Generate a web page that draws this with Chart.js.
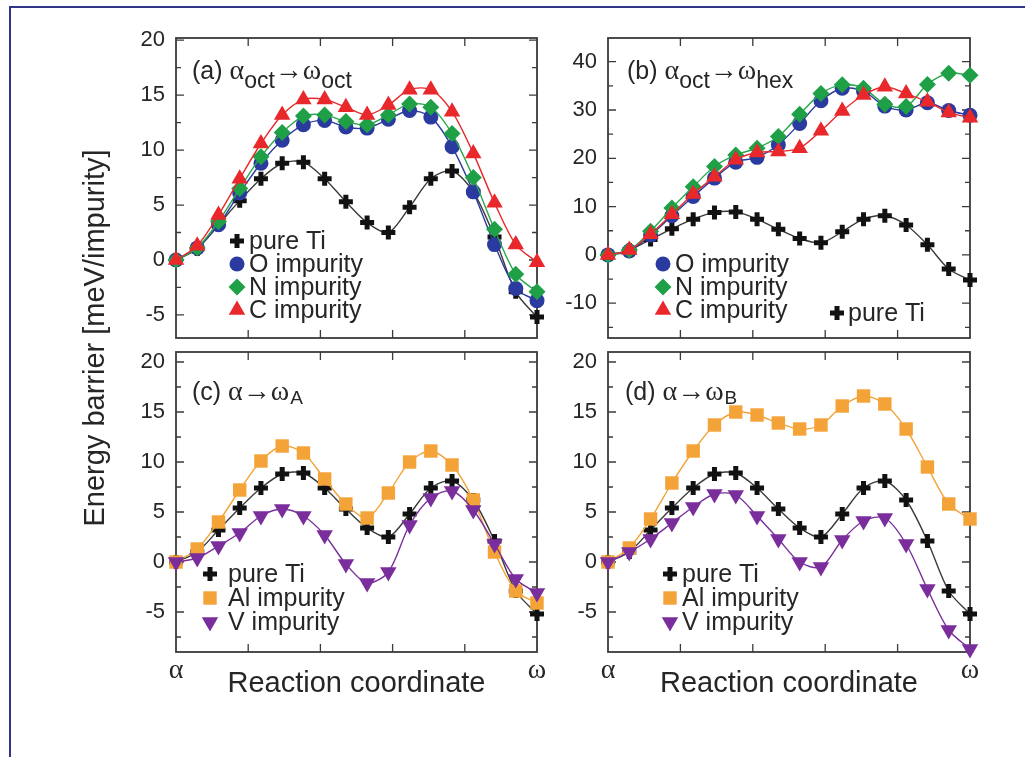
<!DOCTYPE html>
<html>
<head>
<meta charset="utf-8">
<title>Energy barrier along the alpha to omega path</title>
<script src="https://cdn.jsdelivr.net/npm/chart.js@4.4.1/dist/chart.umd.min.js"></script>
<style>
  html, body { margin: 0; padding: 0; background: #fff; }
  #page { position: relative; width: 1025px; height: 757px; overflow: hidden; }
  #edge { position: absolute; left: 9px; top: 6px; right: -10px; bottom: -10px;
          border-top: 2px solid #2f3484; border-left: 2px solid #2f3484; }
  canvas { position: absolute; left: 0; top: 0; }
</style>
</head>
<body>
<div id="page">
  <div id="edge"></div>
  <canvas id="panelA" width="1025" height="757"></canvas>
  <canvas id="panelB" width="1025" height="757"></canvas>
  <canvas id="panelC" width="1025" height="757"></canvas>
  <canvas id="panelD" width="1025" height="757"></canvas>
</div>
<script>
// images along the reaction path (alpha = 0 ... omega = 17)
const steps = [0, 1, 2, 3, 4, 5, 6, 7, 8, 9, 10, 11, 12, 13, 14, 15, 16, 17];
const xTicks = [0, 3.4, 6.8, 10.2, 13.6, 17];

// pure Ti, same path in every panel
const pureTi = [0, 1.0, 3.2, 5.4, 7.4, 8.8, 8.9, 7.4, 5.3, 3.4, 2.5, 4.8, 7.4, 8.1, 6.2, 2.1, -2.9, -5.2];

// (a) alpha_oct -> omega_oct
const octO = [0, 1.1, 3.2, 6.1, 8.8, 10.9, 12.3, 12.7, 12.1, 12.0, 12.8, 13.6, 13.0, 10.3, 6.2, 1.4, -2.6, -3.7];
const octN = [0, 1.1, 3.5, 6.5, 9.4, 11.6, 13.1, 13.2, 12.6, 12.3, 13.2, 14.2, 13.9, 11.5, 7.5, 2.8, -1.3, -2.9];
const octC = [0, 1.3, 4.1, 7.4, 10.6, 13.2, 14.6, 14.6, 13.9, 13.2, 14.1, 15.5, 15.5, 13.5, 9.7, 5.2, 1.4, -0.2];

// (b) alpha_oct -> omega_hex
const hexO = [0, 0.8, 4.1, 8.1, 12.1, 15.9, 19.2, 20.2, 22.8, 27.2, 31.9, 34.5, 33.9, 30.8, 30.0, 31.5, 29.9, 28.9];
const hexN = [0, 1.0, 4.9, 9.7, 14.1, 18.3, 20.7, 22.1, 24.5, 29.1, 33.4, 35.2, 34.5, 31.2, 30.7, 35.3, 37.6, 37.2];
const hexC = [0, 1.0, 4.3, 8.4, 12.6, 16.2, 19.7, 21.2, 21.4, 22.1, 25.7, 29.8, 33.1, 34.8, 33.4, 31.7, 29.5, 28.4];

// (c) alpha -> omega_A
const pathAAl = [0, 1.3, 4.0, 7.2, 10.1, 11.6, 10.9, 8.3, 5.8, 4.4, 6.9, 10.0, 11.1, 9.7, 6.2, 1.0, -2.9, -4.1];
const pathAV = [0, 0.4, 1.6, 2.9, 4.6, 5.3, 4.6, 2.7, -0.2, -2.1, -1.0, 3.7, 6.4, 7.1, 5.2, 1.8, -1.7, -3.1];

// (d) alpha -> omega_B
const pathBAl = [0, 1.4, 4.3, 7.9, 11.1, 13.7, 15.0, 14.7, 13.9, 13.3, 13.7, 15.6, 16.6, 15.8, 13.3, 9.5, 5.8, 4.3];
const pathBV = [0, 1.0, 2.3, 3.9, 5.5, 6.8, 6.7, 4.6, 2.3, 0, -0.5, 2.2, 4.1, 4.4, 1.8, -2.7, -6.8, -8.7];

const SANS = "'Liberation Sans', Arial, sans-serif";
const SERIF = "'Liberation Serif', 'Times New Roman', serif";
const TEXT = '#262626';

// marker looks
const look = {
  ti: { color: '#111', line: '#3a3a3a', pointStyle: 'cross', radius: 7, border: 5 },
  O:  { color: '#2a3a9e', line: '#2a3a9e', pointStyle: 'circle', radius: 7.5 },
  N:  { color: '#1fa047', line: '#2aa84f', pointStyle: 'rectRot', radius: 8.5 },
  C:  { color: '#e8282b', line: '#e8282b', pointStyle: 'triangle', radius: 9.5 },
  Al: { color: '#f4a338', line: '#f4a338', pointStyle: 'rect', radius: 9.5 },
  V:  { color: '#7a2e9c', line: '#7a2e9c', pointStyle: 'triangle', radius: 9.5, rotation: 180 }
};

function series(label, values, l, order) {
  return {
    label: label,
    data: values.map((v, i) => ({ x: steps[i], y: v })),
    borderColor: l.line,
    borderWidth: 1.4,
    backgroundColor: l.color,
    pointStyle: l.pointStyle,
    pointRadius: l.radius,
    pointHoverRadius: l.radius,
    pointRotation: l.rotation || 0,
    pointBackgroundColor: l.color,
    pointBorderColor: l.color,
    pointBorderWidth: l.border || 0,
    tension: 0.3,
    clip: false,
    order: order
  };
}

function drawMarker(ctx, ds, x, y) {
  ctx.fillStyle = ds.pointBackgroundColor;
  ctx.strokeStyle = ds.pointBorderColor;
  ctx.lineWidth = ds.pointBorderWidth;
  Chart.helpers.drawPoint(ctx, {
    pointStyle: ds.pointStyle, radius: ds.pointRadius,
    rotation: ds.pointRotation, borderWidth: ds.pointBorderWidth
  }, x, y);
}

// box round the plot with inward ticks on all four sides
const framePlugin = {
  id: 'frame',
  beforeDatasetsDraw(chart, args, o) {
    const { ctx, chartArea: a } = chart;
    const x = chart.scales.x, y = chart.scales.y;
    ctx.save();
    ctx.strokeStyle = '#3a3a3a';
    ctx.lineWidth = 1.8;
    ctx.strokeRect(a.left, a.top, a.right - a.left, a.bottom - a.top);
    ctx.lineWidth = 1.3;
    ctx.beginPath();
    for (let v = Math.ceil(y.min / o.minor) * o.minor; v < y.max; v += o.minor) {
      if (v <= y.min) continue;
      const py = y.getPixelForValue(v);
      const r = v / o.major;
      const len = Math.abs(r - Math.round(r)) < 1e-6 ? 8 : 5;
      ctx.moveTo(a.left, py); ctx.lineTo(a.left + len, py);
      ctx.moveTo(a.right, py); ctx.lineTo(a.right - len, py);
    }
    xTicks.forEach(v => {
      if (v <= x.min || v >= x.max) return;
      const px = x.getPixelForValue(v);
      ctx.moveTo(px, a.bottom); ctx.lineTo(px, a.bottom - 8);
      ctx.moveTo(px, a.top); ctx.lineTo(px, a.top + 8);
    });
    ctx.stroke();
    ctx.restore();
  }
};

const keyPlugin = {
  id: 'keyBox',
  afterDatasetsDraw(chart, args, o) {
    const { ctx, chartArea: a } = chart;
    ctx.save();
    o.items.forEach(it => {
      const ds = chart.data.datasets[it.i];
      const px = a.left + it.x, py = a.top + it.y;
      drawMarker(ctx, ds, px, py);
      ctx.fillStyle = TEXT;
      ctx.font = '25px ' + SANS;
      ctx.textBaseline = 'middle';
      ctx.textAlign = 'left';
      ctx.fillText(ds.label, px + it.gap, py + 1);
    });
    ctx.restore();
  }
};

const tagPlugin = {
  id: 'tag',
  afterDraw(chart, args, o) {
    const { ctx, chartArea: a } = chart;
    let x = a.left + o.dx;
    const base = a.top + o.dy;
    ctx.save();
    ctx.fillStyle = TEXT;
    ctx.textBaseline = 'alphabetic';
    ctx.textAlign = 'left';
    o.parts.forEach(([t, kind]) => {
      let dy = 0;
      if (kind === 'g') ctx.font = '28px ' + SERIF;
      else if (kind === 's') { ctx.font = o.subSize + 'px ' + SANS; dy = o.subDy; x += o.subGap; }
      else if (kind === 'r') ctx.font = '28px ' + SANS;
      else ctx.font = '25px ' + SANS;
      ctx.fillText(t, x, base + dy);
      x += ctx.measureText(t).width;
    });
    if (o.yTitle) {
      ctx.font = '29px ' + SANS;
      ctx.textAlign = 'center';
      ctx.textBaseline = 'middle';
      ctx.translate(o.yTitle.x, o.yTitle.y);
      ctx.rotate(-Math.PI / 2);
      ctx.fillText(o.yTitle.text, 0, 0);
    }
    ctx.restore();
  }
};

function makePanel(id, p) {
  const xH = p.showX ? 49 : 0;
  return new Chart(document.getElementById(id), {
    type: 'line',
    data: { datasets: p.datasets },
    plugins: [framePlugin, keyPlugin, tagPlugin],
    options: {
      responsive: false,
      animation: false,
      events: [],
      layout: {
        padding: {
          left: p.area.left - 60,
          top: p.area.top,
          right: 1025 - p.area.right,
          bottom: 757 - p.area.bottom - xH
        }
      },
      plugins: {
        legend: { display: false },
        tooltip: { enabled: false },
        frame: { major: p.yStep, minor: p.yStep / 2 },
        keyBox: { items: p.key },
        tag: p.tag
      },
      scales: {
        x: {
          type: 'linear',
          min: 0,
          max: 17,
          grid: { display: false, drawTicks: false },
          border: { display: false },
          afterBuildTicks: s => { s.ticks = xTicks.map(v => ({ value: v })); },
          afterFit: s => { s.height = xH; },
          ticks: {
            display: p.showX,
            autoSkip: false,
            maxRotation: 0,
            padding: 2,
            color: TEXT,
            font: { family: SERIF, size: 28 },
            callback: v => (v === 0 ? 'α' : (v === 17 ? 'ω' : ''))
          },
          title: {
            display: p.showX,
            text: 'Reaction coordinate',
            color: TEXT,
            padding: 0,
            font: { family: SANS, size: 29 }
          }
        },
        y: {
          min: p.yMin,
          max: p.yMax,
          grid: { display: false, drawTicks: false },
          border: { display: false },
          afterFit: s => { s.width = 60; },
          afterBuildTicks: s => {
            const out = [];
            for (let v = Math.ceil(s.min / p.yStep) * p.yStep; v <= s.max; v += p.yStep) out.push({ value: v });
            s.ticks = out;
          },
          ticks: {
            stepSize: p.yStep,
            padding: 11,
            color: TEXT,
            font: { family: SANS, size: 22 }
          }
        }
      }
    }
  });
}

makePanel('panelA', {
  area: { left: 176, top: 38, right: 537, bottom: 338 },
  yMin: -7.1, yMax: 20.2, yStep: 5, showX: false,
  datasets: [
    series('pure Ti', pureTi, look.ti, 4),
    series('O impurity', octO, look.O, 3),
    series('N impurity', octN, look.N, 2),
    series('C impurity', octC, look.C, 1)
  ],
  key: [
    { i: 0, x: 61, y: 203, gap: 12 },
    { i: 1, x: 61, y: 226, gap: 12 },
    { i: 2, x: 61, y: 249, gap: 12 },
    { i: 3, x: 61, y: 272, gap: 12 }
  ],
  tag: {
    dx: 16, dy: 41, subSize: 23, subDy: 9, subGap: 0,
    parts: [['(a) ', 'm'], ['α', 'g'], ['oct', 's'], ['→', 'r'], ['ω', 'g'], ['oct', 's']],
    yTitle: { x: 96, y: 338, text: 'Energy barrier [meV/impurity]' }
  }
});

makePanel('panelB', {
  area: { left: 608, top: 38, right: 970, bottom: 338 },
  yMin: -17.2, yMax: 44.9, yStep: 10, showX: false,
  datasets: [
    series('pure Ti', pureTi, look.ti, 4),
    series('O impurity', hexO, look.O, 3),
    series('N impurity', hexN, look.N, 2),
    series('C impurity', hexC, look.C, 1)
  ],
  key: [
    { i: 1, x: 55, y: 226, gap: 12 },
    { i: 2, x: 55, y: 249, gap: 12 },
    { i: 3, x: 55, y: 272, gap: 12 },
    { i: 0, x: 229, y: 275, gap: 11 }
  ],
  tag: {
    dx: 19, dy: 41, subSize: 23, subDy: 9, subGap: 0,
    parts: [['(b) ', 'm'], ['α', 'g'], ['oct', 's'], ['→', 'r'], ['ω', 'g'], ['hex', 's']]
  }
});

makePanel('panelC', {
  area: { left: 176, top: 352, right: 537, bottom: 652 },
  yMin: -9, yMax: 21, yStep: 5, showX: true,
  datasets: [
    series('pure Ti', pureTi, look.ti, 3),
    series('Al impurity', pathAAl, look.Al, 2),
    series('V impurity', pathAV, look.V, 1)
  ],
  key: [
    { i: 0, x: 34, y: 222, gap: 18 },
    { i: 1, x: 34, y: 246, gap: 18 },
    { i: 2, x: 34, y: 270, gap: 18 }
  ],
  tag: {
    dx: 16, dy: 48, subSize: 19, subDy: 4, subGap: 1,
    parts: [['(c) ', 'm'], ['α', 'g'], ['→', 'r'], ['ω', 'g'], ['A', 's']]
  }
});

makePanel('panelD', {
  area: { left: 608, top: 352, right: 970, bottom: 652 },
  yMin: -9, yMax: 21, yStep: 5, showX: true,
  datasets: [
    series('pure Ti', pureTi, look.ti, 3),
    series('Al impurity', pathBAl, look.Al, 2),
    series('V impurity', pathBV, look.V, 1)
  ],
  key: [
    { i: 0, x: 62, y: 222, gap: 12 },
    { i: 1, x: 62, y: 246, gap: 12 },
    { i: 2, x: 62, y: 270, gap: 12 }
  ],
  tag: {
    dx: 17, dy: 48, subSize: 19, subDy: 4, subGap: 1,
    parts: [['(d) ', 'm'], ['α', 'g'], ['→', 'r'], ['ω', 'g'], ['B', 's']]
  }
});
</script>
</body>
</html>
